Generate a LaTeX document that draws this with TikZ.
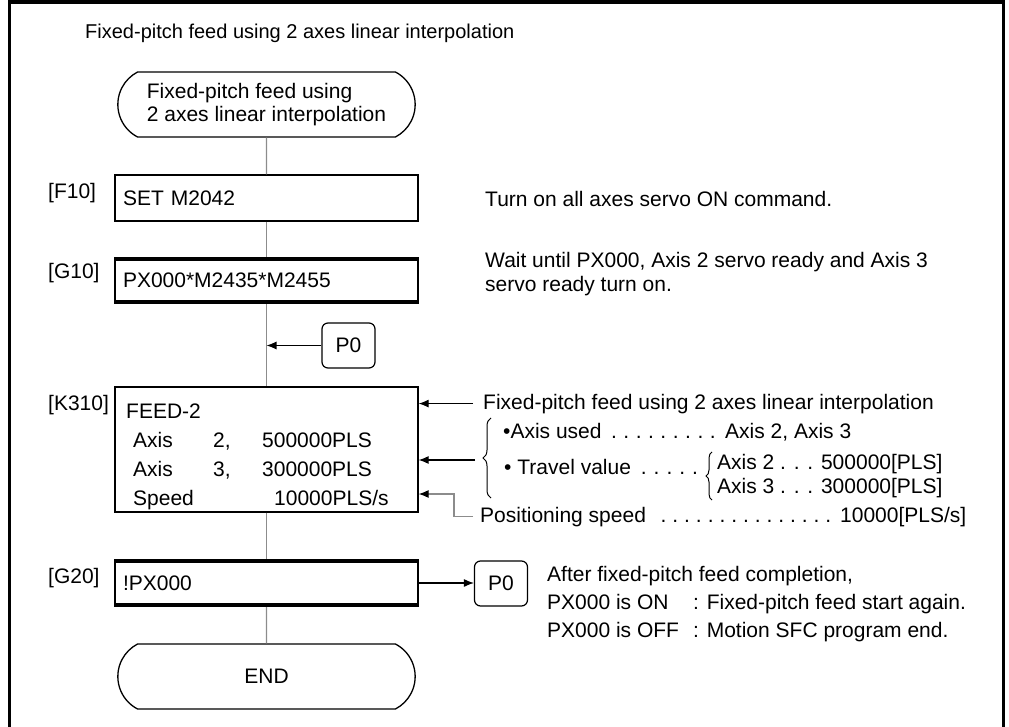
\documentclass[tikz,border=0pt]{standalone}
\usepackage{fontspec}
\setmainfont{Liberation Sans}
\usetikzlibrary{arrows.meta,positioning,shapes.misc,decorations.pathreplacing}
\definecolor{FlowGray}{HTML}{8C8C8C}
\newcommand{\dotlead}{\xleaders\hbox to 11.6pt{\hss.\hss}\hfill}

\begin{document}
\begin{tikzpicture}[
  x=1pt, y=-1pt,
  font=\fontsize{21}{23}\selectfont,
  terminal/.style={draw, line width=1.3pt, rounded rectangle, rounded rectangle arc length=125, minimum width=304pt, minimum height=65pt, align=left},
  stepbox/.style={draw, line width=1.3pt, minimum width=303pt, minimum height=46pt, text width=287pt, inner xsep=8pt, align=left},
  jump/.style={draw, line width=1.2pt, rounded corners=6pt, minimum width=53pt, minimum height=45pt},
  steplabel/.style={anchor=base west, inner sep=0pt},
  remark/.style={anchor=base west, inner sep=0pt},
  flow/.style={FlowGray, line width=1.2pt},
  arrow/.style={-{Latex[length=10pt,width=8pt]}, line width=1.1pt},
  grayarrow/.style={-{Latex[length=10pt,width=8pt,black]}, line width=1.1pt, FlowGray},
  bar/.style={line width=4.5pt}
]
  \useasboundingbox (0,0) rectangle (1009,727);
  \draw[line width=3.5pt] (9.5,727) -- (9.5,2) -- (1003.5,2) -- (1003.5,727);

  \node[remark, font=\fontsize{20}{23}\selectfont] (title) at (85,39) {Fixed-pitch feed using 2 axes linear interpolation};

  % program steps
  \node[terminal] (start) at (266.5,104.5) {Fixed-pitch feed using\\2 axes linear interpolation};
  \node[stepbox] (f10) at (266.5,198) {SET M2042};
  \node[stepbox, minimum height=45pt] (g10) at (266.5,280.5) {PX000*M2435*M2455};
  \node[stepbox, minimum height=125pt] (k310) at (266.5,449.5) {};
  \node[stepbox] (g20) at (266.5,583) {!PX000};
  \node[terminal, align=center] (finish) at (266.5,676.5) {END};

  \node[steplabel] (lf10) at (48,199) {[F10]};
  \node[steplabel] (lg10) at (48,279) {[G10]};
  \node[steplabel] (lk310) at (48,410) {[K310]};
  \node[steplabel] (lg20) at (48,583) {[G20]};

  \node[remark] (feed) at (126,418) {FEED-2};
  \node[remark] (ax2) at (133,447) {\makebox[80pt][l]{Axis}\makebox[49pt][l]{2,}500000PLS};
  \node[remark] (ax3) at (133,476) {\makebox[80pt][l]{Axis}\makebox[49pt][l]{3,}300000PLS};
  \node[remark] (spd) at (133,505) {\makebox[141pt][l]{Speed}10000PLS/s};

  \foreach \a/\b in {start/f10, f10/g10, g10/k310, k310/g20, g20/finish}
    \draw[flow] (\a) -- (\b);
  \foreach \t in {g10,g20} {
    \draw[bar] ([yshift=-1.5pt]\t.north west) -- ([yshift=-1.5pt]\t.north east);
    \draw[bar] ([yshift=1.5pt]\t.south west) -- ([yshift=1.5pt]\t.south east);
  }

  % jumps
  \node[jump] (p0a) at (348.5,345.5) {P0};
  \node[jump] (p0b) at (501,583.5) {P0};
  \draw[arrow] (p0a) -- (p0a -| g10.south);
  \draw[arrow] (g20.east) -- (g20.east -| p0b.west);

  % comments
  \node[remark] (servo) at (485,207) {Turn on all axes servo ON command.};
  \node[remark] (wait1) at (485,268) {Wait until PX000, Axis 2 servo ready and Axis 3};
  \node[remark] (wait2) at (485,291) {servo ready turn on.};

  \node[remark] (fixnote) at (483,409) {Fixed-pitch feed using 2 axes linear interpolation};
  \node[remark] (axused) at (503,438) {\makebox[222pt][l]{•Axis used\ \dotlead\ }Axis 2, Axis 3};
  \node[remark] (travel) at (504,474) {\makebox[198pt][l]{• Travel value\ \dotlead}};
  \node[remark] (tv2) at (717,469) {Axis 2 . . . 500000[PLS]};
  \node[remark] (tv3) at (717,493) {Axis 3 . . . 300000[PLS]};
  \node[remark] (spdnote) at (480,522) {\makebox[360pt][l]{Positioning speed\ \ \dotlead\ }10000[PLS/s]};

  \draw[line width=1pt, decorate, decoration={brace, amplitude=8pt}] (491,498) -- (491,418);
  \draw[line width=1pt, decorate, decoration={brace, amplitude=6pt}] (712,500) -- (712,452);
  \coordinate (cusp) at (483,460);

  \draw[arrow] ([xshift=-10pt]fixnote.west) -- (fixnote.west -| k310.east);
  \draw[arrow] ([xshift=-8pt]cusp) -- (cusp -| k310.east);
  \draw[grayarrow] ([xshift=-7pt]spdnote.west) -- ++(-19,0) |- (k310.east |- 0,494);

  \node[remark] (after) at (547,581) {After fixed-pitch feed completion,};
  \node[remark] (pxon) at (547,609) {\makebox[146pt][l]{PX000 is ON}: Fixed-pitch feed start again.};
  \node[remark] (pxoff) at (547,637) {\makebox[146pt][l]{PX000 is OFF}: Motion SFC program end.};
\end{tikzpicture}
\end{document}
